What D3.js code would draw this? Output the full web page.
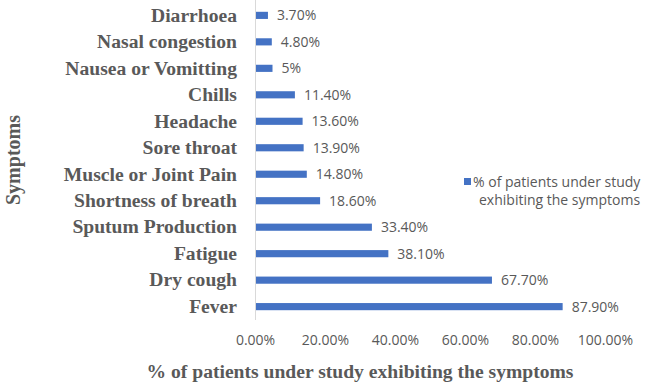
<!DOCTYPE html>
<html>
<head>
<meta charset="utf-8">
<script src="https://cdn.jsdelivr.net/npm/d3@7"></script>
<style>
  body { margin: 0; background: #fff; }
  svg { display: block; }
</style>
</head>
<body>
<svg id="chart" width="646" height="383"></svg>
<script>
const symptoms = ['Diarrhoea', 'Nasal congestion', 'Nausea or Vomitting', 'Chills', 'Headache',
  'Sore throat', 'Muscle or Joint Pain', 'Shortness of breath', 'Sputum Production',
  'Fatigue', 'Dry cough', 'Fever'];
const percents = [3.7, 4.8, 5, 11.4, 13.6, 13.9, 14.8, 18.6, 33.4, 38.1, 67.7, 87.9];
const valueLabels = ['3.70%', '4.80%', '5%', '11.40%', '13.60%', '13.90%', '14.80%',
  '18.60%', '33.40%', '38.10%', '67.70%', '87.90%'];
const xTicks = [0, 20, 40, 60, 80, 100];
const seriesName = ['% of patients under study', 'exhibiting the symptoms'];

const svg = d3.select('#chart');
const margin = { top: 2, right: 41, bottom: 63, left: 255 };
const width = 646, height = 383;
const barColor = '#4472c4';
const textColor = '#595959';
const serif = '"Liberation Serif", "Times New Roman", serif';
const sans = '"Open Sans", "Liberation Sans", sans-serif';

const x = d3.scaleLinear()
  .domain([0, 100])
  .range([margin.left, width - margin.right]);

const y = d3.scaleBand()
  .domain(symptoms)
  .range([margin.top, height - margin.bottom])
  .paddingInner(0.73)
  .paddingOuter(0.37);

const data = symptoms.map((s, i) => ({ name: s, value: percents[i], label: valueLabels[i] }));

// bars
svg.append('g').selectAll('rect')
  .data(data)
  .enter().append('rect')
  .attr('x', x(0))
  .attr('y', d => y(d.name))
  .attr('width', d => x(d.value) - x(0))
  .attr('height', y.bandwidth())
  .attr('fill', barColor);

// value labels
svg.append('g').selectAll('text')
  .data(data)
  .enter().append('text')
  .attr('x', d => x(d.value) + 9)
  .attr('y', d => y(d.name) + y.bandwidth() / 2)
  .attr('dy', '0.35em')
  .attr('font-family', sans)
  .attr('font-size', 14)
  .attr('fill', textColor)
  .text(d => d.label);

// y axis (vertical line + category labels)
const yAxis = svg.append('g')
  .attr('transform', `translate(${x(0)},0)`)
  .call(d3.axisLeft(y).tickSize(0).tickPadding(18));
yAxis.select('.domain').attr('stroke', '#d9d9d9').attr('d', `M0.5,${margin.top - 2}V${height - margin.bottom}`);
yAxis.selectAll('text')
  .attr('font-family', serif)
  .attr('font-weight', 'bold')
  .attr('font-size', 19.6)
  .attr('fill', textColor);

// x axis tick labels
const xAxis = svg.append('g')
  .attr('transform', `translate(0,${height - margin.bottom})`)
  .call(d3.axisBottom(x).tickValues(xTicks).tickSize(0).tickPadding(15)
    .tickFormat(d => d.toFixed(2) + '%'));
xAxis.select('.domain').remove();
xAxis.selectAll('text')
  .attr('font-family', sans)
  .attr('font-size', 14)
  .attr('fill', textColor);

// axis titles
svg.append('text')
  .attr('x', 360)
  .attr('y', 378)
  .attr('text-anchor', 'middle')
  .attr('font-family', serif)
  .attr('font-weight', 'bold')
  .attr('font-size', 19.6)
  .attr('fill', textColor)
  .text('% of patients under study exhibiting the symptoms');

svg.append('text')
  .attr('transform', 'translate(20,160) rotate(-90)')
  .attr('text-anchor', 'middle')
  .attr('font-family', serif)
  .attr('font-weight', 'bold')
  .attr('font-size', 20)
  .attr('fill', textColor)
  .text('Symptoms');

// legend
const legend = svg.append('g');
legend.append('rect')
  .attr('x', 464).attr('y', 178)
  .attr('width', 7).attr('height', 7)
  .attr('fill', barColor);
legend.append('text')
  .attr('y', 187)
  .attr('font-family', sans)
  .attr('font-size', 14)
  .attr('fill', textColor)
  .selectAll('tspan')
  .data(seriesName)
  .enter().append('tspan')
  .attr('x', (d, i) => i === 0 ? 473 : 479)
  .attr('dy', (d, i) => i === 0 ? 0 : 18)
  .text(d => d);
</script>
</body>
</html>
